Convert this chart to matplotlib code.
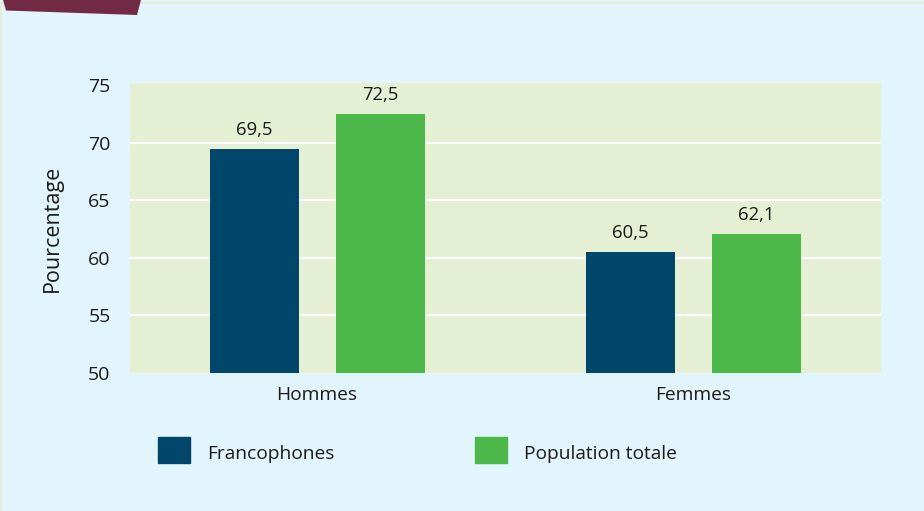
import matplotlib
matplotlib.use("Agg")
import matplotlib.pyplot as plt
from matplotlib.patches import Rectangle, Polygon
import numpy as np

categories = ["Hommes", "Femmes"]
series_names = ["Francophones", "Population totale"]
francophones = [69.5, 60.5]
population = [72.5, 62.1]
yticks = [50, 55, 60, 65, 70, 75]

colors = ["#00456a", "#4cb84a"]
bg = "#e3f5fc"
plot_bg = "#e5efd3"
txt = "#1a1a1a"

plt.rcParams["font.family"] = ["Open Sans", "DejaVu Sans"]

fig = plt.figure(figsize=(9.24, 5.11), dpi=100, facecolor=bg)
ax = fig.add_axes([130 / 924, 1 - 373 / 511, 751 / 924, 290 / 511])
ax.set_facecolor(plot_bg)

x = np.arange(len(categories))
offs = [-0.167, 0.168]
w = 0.237
for vals, off, c in zip([francophones, population], offs, colors):
    bars = ax.bar(x + off, vals, w, color=c, zorder=3)
    for b, v in zip(bars, vals):
        ax.text(b.get_x() + b.get_width() / 2, v + 0.85, f"{v:.1f}".replace(".", ","),
                ha="center", va="bottom", fontsize=13.3, color=txt, zorder=4)

ax.set_ylim(50, 75.2)
ax.set_xlim(-0.497, 1.5)
ax.set_yticks(yticks)
ax.set_yticklabels([str(t) for t in yticks], fontsize=14, color=txt)
ax.set_xticks(x)
ax.set_xticklabels(categories, fontsize=13.8, color=txt)
ax.tick_params(axis="y", length=0, pad=14)
ax.tick_params(axis="x", length=0, pad=9)
ax.yaxis.grid(True, color="white", linewidth=1.6, zorder=1)
gl = ax.get_ygridlines()
gl[0].set_visible(False)
gl[-1].set_visible(False)
ax.set_axisbelow(True)
for s in ax.spines.values():
    s.set_visible(False)
ax.set_ylabel("Pourcentage", fontsize=15.5, color=txt, labelpad=18)

# legend
leg_x = [158, 475]
for lx, name, c in zip(leg_x, series_names, colors):
    fig.patches.append(Rectangle((lx / 924, 1 - 463 / 511), 32 / 924, 26 / 511,
                                 transform=fig.transFigure, color=c))
    fig.text((lx + 49) / 924, 1 - 454 / 511, name, fontsize=13.8, color=txt,
             va="center", ha="left")

# decorative frame and tab
fig.add_artist(plt.Line2D([1 / 924, 1], [1 - 3.5 / 511, 1 - 3.5 / 511], transform=fig.transFigure,
                          color="#e2ecd0", linewidth=1.2))
fig.add_artist(plt.Line2D([1 / 924, 1 / 924], [0, 1 - 3.5 / 511], transform=fig.transFigure,
                          color="#e2ecd0", linewidth=1.2))
tab = Polygon([(3 / 924, 1), (141 / 924, 1), (137 / 924, 1 - 15 / 511), (6 / 924, 1 - 10.5 / 511)],
              closed=True, transform=fig.transFigure, facecolor="#722a44", edgecolor="none",
              zorder=5)
fig.add_artist(tab)

fig.savefig("out.png", dpi=100, facecolor=bg)
